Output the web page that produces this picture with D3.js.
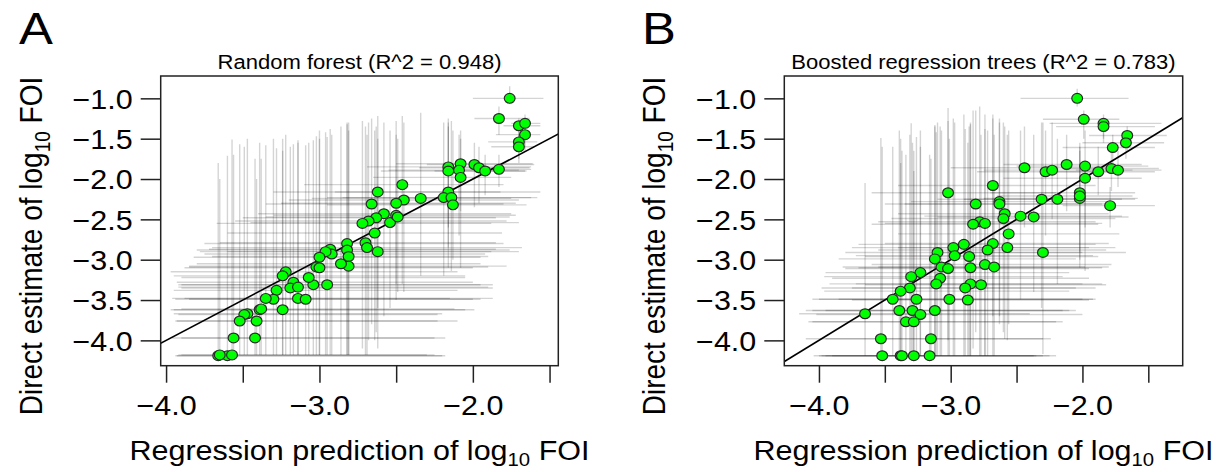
<!DOCTYPE html>
<html><head><meta charset="utf-8">
<script src="https://cdn.jsdelivr.net/npm/d3@7"></script>
<style>
html,body{margin:0;padding:0;background:#fff;}
svg{display:block;font-family:"Liberation Sans",Arial,Helvetica,sans-serif;}
</style></head>
<body>
<svg id="chart" width="1217" height="472"></svg>
<script>
// ---------- Data ----------
const xTicks = [-4.0, -3.5, -3.0, -2.5, -2.0, -1.5];
const xTickLabels = ["−4.0", "", "−3.0", "", "−2.0", ""];
const yTicks = [-1.0, -1.5, -2.0, -2.5, -3.0, -3.5, -4.0];
const yTickLabels = ["−1.0", "−1.5", "−2.0", "−2.5", "−3.0", "−3.5", "−4.0"];
const panelLetters = ["A", "B"];
const panelTitles = ["Random forest (R^2 = 0.948)", "Boosted regression trees (R^2 = 0.783)"];
const xLimits = [[-4.035, -1.443], [-4.263, -1.239]];
const yLimits = [-4.314, -0.723];

// Panel A: random forest
const predA = [-1.76,-1.83,-1.70,-1.66,-1.66,-1.70,-1.70,-2.16,-2.16,-2.08,-2.09,-2.08,-1.99,-1.96,-1.92,-1.83,-2.16,-2.19,-2.14,-2.13,-2.34,-2.46,-2.45,-2.50,-2.62,-2.66,-2.58,-2.63,-2.68,-2.72,-2.54,-2.50,-2.49,-2.64,-2.70,-2.69,-2.62,-2.82,-2.82,-2.81,-2.81,-2.86,-2.93,-2.92,-2.96,-3.00,-3.02,-3.00,-2.95,-3.04,-3.07,-3.22,-3.24,-3.17,-3.19,-3.14,-3.14,-3.09,-3.28,-3.30,-3.35,-3.24,-3.39,-3.38,-3.47,-3.49,-3.52,-3.41,-3.56,-3.42,-3.66,-3.60,-3.57,-3.65];
const obsA  = [-1.00,-1.25,-1.34,-1.31,-1.45,-1.54,-1.60,-1.85,-1.90,-1.81,-1.89,-1.98,-1.82,-1.86,-1.90,-1.88,-2.16,-2.23,-2.23,-2.32,-2.24,-2.07,-2.26,-2.30,-2.16,-2.31,-2.43,-2.48,-2.52,-2.55,-2.54,-2.45,-2.47,-2.67,-2.79,-2.85,-2.90,-2.80,-2.88,-2.96,-3.08,-3.05,-2.87,-2.93,-2.90,-2.97,-3.09,-3.10,-3.31,-3.31,-3.22,-3.15,-3.20,-3.28,-3.35,-3.34,-3.48,-3.49,-3.38,-3.49,-3.48,-3.62,-3.62,-3.61,-3.67,-3.68,-3.76,-3.76,-3.97,-3.97,-4.19,-4.19,-4.18,-4.18];
const predLoA = [-2.00,-1.99,-1.80,-1.75,-1.85,-1.90,-1.88,-2.69,-2.60,-2.50,-2.55,-2.65,-2.30,-2.35,-2.25,-2.10,-2.90,-2.95,-2.85,-2.95,-3.05,-3.10,-3.20,-3.25,-3.30,-3.35,-3.40,-3.50,-3.55,-3.67,-3.45,-3.30,-3.35,-3.60,-3.65,-3.70,-3.60,-3.75,-3.80,-3.70,-3.85,-3.80,-3.72,-3.75,-3.78,-3.82,-3.85,-3.88,-3.90,-3.92,-3.90,-3.97,-3.95,-3.93,-3.90,-3.92,-3.88,-3.85,-3.95,-3.94,-3.96,-3.95,-3.97,-3.90,-3.95,-3.92,-3.94,-3.93,-3.96,-3.90,-3.94,-3.93,-3.90,-3.92];
const predHiA = [-1.54,-1.63,-1.56,-1.56,-1.56,-1.58,-1.60,-1.62,-1.65,-1.61,-1.70,-1.75,-1.60,-1.63,-1.66,-1.62,-1.56,-1.58,-1.62,-1.65,-1.75,-1.80,-1.70,-1.72,-1.82,-1.80,-1.75,-1.85,-1.78,-1.88,-1.70,-1.72,-1.76,-1.81,-1.85,-1.68,-1.70,-1.80,-1.76,-1.90,-1.78,-1.95,-1.85,-1.92,-1.88,-1.95,-1.90,-2.00,-1.87,-1.95,-2.05,-2.10,-2.05,-2.00,-1.87,-1.90,-1.87,-1.95,-2.10,-2.00,-2.15,-1.99,-2.05,-2.12,-2.20,-2.23,-2.23,-2.10,-2.18,-2.25,-2.18,-2.20,-2.25,-2.30];
const obsLoA = [-1.07,-1.45,-1.55,-1.45,-1.65,-1.75,-1.80,-2.60,-2.85,-2.40,-2.70,-3.10,-2.35,-2.30,-2.20,-2.10,-3.10,-3.20,-3.14,-3.00,-3.20,-3.30,-3.40,-3.50,-3.60,-3.80,-3.70,-3.90,-4.00,-4.10,-3.60,-3.30,-3.40,-4.00,-4.18,-4.18,-4.10,-4.18,-4.18,-4.18,-4.18,-4.18,-4.18,-4.18,-4.18,-4.18,-4.18,-4.18,-4.18,-4.18,-4.18,-4.18,-4.18,-4.18,-4.18,-4.18,-4.18,-4.18,-4.18,-4.18,-4.18,-4.18,-4.18,-4.18,-4.18,-4.18,-4.18,-4.18,-4.18,-4.18,-4.19,-4.19,-4.18,-4.18];
const obsHiA = [-0.85,-1.10,-1.25,-1.20,-1.35,-1.40,-1.45,-1.30,-1.35,-1.40,-1.45,-1.50,-1.55,-1.60,-1.70,-1.70,-1.25,-1.30,-1.28,-1.40,-1.18,-1.22,-1.30,-1.28,-1.22,-1.25,-1.30,-1.35,-1.30,-1.28,-1.40,-1.45,-1.50,-1.40,-1.35,-1.45,-1.50,-1.30,-1.32,-1.40,-1.30,-1.35,-1.38,-1.45,-1.42,-1.40,-1.47,-1.50,-1.48,-1.52,-1.55,-1.45,-1.50,-1.57,-1.60,-1.52,-1.55,-1.58,-1.62,-1.50,-1.58,-1.65,-1.55,-1.75,-1.50,-1.60,-1.57,-2.00,-1.70,-1.75,-1.80,-1.71,-1.51,-2.00];

// Panel B: boosted regression trees
const predB = [-2.04,-1.99,-1.84,-1.84,-1.66,-1.67,-1.77,-2.12,-1.98,-2.44,-2.28,-2.23,-1.88,-1.78,-1.73,-1.98,-2.02,-2.02,-2.02,-1.79,-2.31,-2.19,-2.68,-3.02,-2.81,-2.63,-2.63,-2.59,-2.60,-2.78,-2.83,-2.74,-2.47,-2.37,-2.56,-2.68,-2.57,-2.30,-2.90,-2.98,-2.97,-2.86,-2.72,-3.10,-3.12,-3.07,-3.02,-2.85,-2.74,-2.67,-3.08,-3.11,-2.85,-2.89,-2.77,-3.23,-3.30,-3.31,-3.38,-3.44,-3.26,-3.01,-2.87,-3.39,-3.29,-3.23,-3.12,-3.34,-3.28,-3.65,-3.53,-3.15,-3.52,-3.38,-3.37,-3.28,-3.16];
const obsB  = [-1.00,-1.26,-1.31,-1.35,-1.46,-1.55,-1.61,-1.82,-1.84,-1.86,-1.91,-1.89,-1.91,-1.87,-1.89,-1.99,-2.17,-2.24,-2.21,-2.33,-2.25,-2.25,-2.08,-2.17,-2.31,-2.28,-2.31,-2.43,-2.49,-2.53,-2.56,-2.55,-2.46,-2.47,-2.68,-2.80,-2.85,-2.91,-2.81,-2.85,-2.95,-2.96,-2.88,-2.91,-2.99,-3.09,-3.11,-3.10,-3.06,-3.09,-3.23,-3.30,-3.30,-3.35,-3.31,-3.16,-3.21,-3.35,-3.39,-3.49,-3.49,-3.49,-3.50,-3.63,-3.63,-3.68,-3.63,-3.77,-3.77,-3.67,-3.98,-3.98,-4.19,-4.19,-4.19,-4.19,-4.19];
const predLoB = [-2.47,-2.30,-2.25,-2.20,-1.95,-2.00,-2.15,-2.60,-2.50,-3.00,-2.80,-2.75,-2.30,-2.10,-2.05,-2.60,-2.70,-2.75,-2.65,-2.15,-3.10,-2.90,-3.40,-3.60,-3.50,-3.30,-3.35,-3.40,-3.45,-3.55,-3.60,-3.50,-3.20,-3.10,-3.40,-3.50,-3.40,-3.10,-3.70,-3.75,-3.72,-3.65,-3.55,-3.80,-3.85,-3.82,-3.80,-3.70,-3.60,-3.55,-3.90,-3.92,-3.72,-3.75,-3.65,-3.95,-3.96,-3.98,-3.96,-4.05,-4.00,-3.85,-3.75,-4.10,-4.05,-4.02,-3.95,-4.08,-4.05,-4.15,-4.10,-3.95,-4.04,-4.00,-3.98,-3.95,-3.90];
const predHiB = [-1.65,-1.72,-1.40,-1.45,-1.36,-1.38,-1.45,-1.55,-1.50,-1.80,-1.70,-1.62,-1.45,-1.42,-1.40,-1.55,-1.60,-1.58,-1.62,-1.45,-1.70,-1.60,-1.90,-2.20,-1.85,-1.80,-1.75,-1.80,-1.75,-1.90,-1.88,-1.85,-1.70,-1.65,-1.72,-1.80,-1.75,-1.67,-1.90,-1.95,-1.92,-1.88,-1.82,-2.00,-2.05,-1.98,-1.95,-1.85,-1.78,-1.80,-1.95,-2.00,-1.85,-1.90,-1.82,-2.10,-2.15,-2.05,-2.10,-1.90,-2.00,-1.92,-1.95,-2.10,-2.05,-2.00,-2.15,-2.20,-2.15,-2.40,-2.24,-2.30,-2.37,-2.30,-2.25,-2.35,-2.20];
const obsLoB = [-1.10,-1.50,-1.50,-1.55,-1.65,-1.75,-1.85,-2.40,-2.60,-2.60,-2.70,-2.50,-2.20,-2.15,-2.10,-3.14,-3.00,-3.10,-2.90,-2.60,-3.60,-3.30,-3.70,-4.00,-3.90,-3.80,-3.70,-3.98,-3.90,-4.19,-4.10,-4.19,-3.49,-3.40,-3.80,-4.19,-4.00,-4.17,-4.19,-4.19,-4.19,-4.19,-4.19,-4.19,-4.19,-4.19,-4.19,-4.19,-4.19,-4.19,-4.19,-4.19,-4.19,-4.19,-4.19,-4.19,-4.19,-4.19,-4.19,-4.19,-4.19,-4.19,-4.19,-4.19,-4.19,-4.19,-4.19,-4.19,-4.19,-4.19,-4.19,-4.19,-4.19,-4.19,-4.19,-4.19,-4.19];
const obsHiB = [-0.88,-1.15,-1.20,-1.25,-1.35,-1.42,-1.45,-1.45,-1.40,-1.35,-1.40,-1.30,-1.60,-1.55,-1.65,-1.80,-1.60,-1.55,-1.65,-2.10,-1.30,-1.50,-1.20,-1.12,-1.15,-1.25,-1.30,-1.35,-1.30,-1.10,-1.15,-1.20,-1.40,-1.45,-1.40,-1.25,-1.45,-1.30,-1.20,-1.25,-1.30,-1.35,-1.40,-1.30,-1.35,-1.40,-1.28,-1.32,-1.38,-1.45,-1.35,-1.42,-1.30,-1.38,-1.45,-1.40,-1.31,-1.45,-1.50,-1.60,-1.48,-1.50,-1.55,-1.40,-1.55,-1.60,-1.33,-1.70,-1.65,-2.05,-1.49,-1.75,-1.60,-1.80,-1.65,-1.90,-1.70];

// ---------- Layout ----------
const SX = 1.13; // the reference is slightly wider than tall: stretch text horizontally
const panels = [
  {box:{x0:160.7, x1:558.3, y0:76, y1:365.7}, pred:predA, obs:obsA, pLo:predLoA, pHi:predHiA, oLo:obsLoA, oHi:obsHiA,
   letterX:19, yTitleBase:42},
  {box:{x0:784.3, x1:1182.7, y0:76, y1:365.7}, pred:predB, obs:obsB, pLo:predLoB, pHi:predHiB, oLo:obsLoB, oHi:obsHiB,
   letterX:642, yTitleBase:665}
];

const svg = d3.select("#chart");
const FONT = '"Liberation Sans",Arial,Helvetica,sans-serif';

panels.forEach((p, i) => {
  const b = p.box;
  const x = d3.scaleLinear().domain(xLimits[i]).range([b.x0, b.x1]);
  const y = d3.scaleLinear().domain(yLimits).range([b.y1, b.y0]);
  const g = svg.append("g");
  const clipId = "clip" + i;
  svg.append("clipPath").attr("id", clipId).append("rect")
     .attr("x", b.x0).attr("y", b.y0).attr("width", b.x1 - b.x0).attr("height", b.y1 - b.y0);

  const data = p.pred.map((v, k) => ({x: v, y: p.obs[k], xl: p.pLo[k], xh: p.pHi[k], yl: p.oLo[k], yh: p.oHi[k]}));
  const plot = g.append("g").attr("clip-path", `url(#${clipId})`);

  // error bars
  const eb = plot.append("g").attr("stroke", "rgba(0,0,0,0.17)").attr("stroke-width", 1.4);
  eb.selectAll("line.h").data(data).join("line").attr("class", "h")
    .attr("x1", d => x(d.xl)).attr("x2", d => x(d.xh))
    .attr("y1", d => y(d.y)).attr("y2", d => y(d.y));
  eb.selectAll("line.v").data(data).join("line").attr("class", "v")
    .attr("x1", d => x(d.x)).attr("x2", d => x(d.x))
    .attr("y1", d => y(d.yl)).attr("y2", d => y(d.yh));

  // identity line
  const lim = [Math.min(xLimits[i][0], yLimits[0]) - 1, Math.max(xLimits[i][1], yLimits[1]) + 1];
  plot.append("line")
    .attr("x1", x(lim[0])).attr("y1", y(lim[0]))
    .attr("x2", x(lim[1])).attr("y2", y(lim[1]))
    .attr("stroke", "#000").attr("stroke-width", 1.6);

  // points
  plot.append("g").selectAll("ellipse").data(data).join("ellipse")
    .attr("cx", d => x(d.x)).attr("cy", d => y(d.y)).attr("rx", 5.4).attr("ry", 4.9)
    .attr("fill", "#00ff00").attr("stroke", "#2a2a2a").attr("stroke-width", 1.2);

  // box
  g.append("rect").attr("x", b.x0).attr("y", b.y0).attr("width", b.x1 - b.x0).attr("height", b.y1 - b.y0)
    .attr("fill", "none").attr("stroke", "#222").attr("stroke-width", 1.5);

  // x axis
  const xAxis = d3.axisBottom(x).tickValues(xTicks).tickSize(17).tickSizeOuter(0)
    .tickFormat((d, k) => xTickLabels[k]);
  const xa = g.append("g").attr("transform", `translate(0,${b.y1})`).call(xAxis);
  xa.select(".domain").remove();
  xa.selectAll(".tick line").attr("stroke", "#222").attr("stroke-width", 1.5);
  xa.selectAll(".tick text").attr("font-family", FONT).attr("font-size", 27).attr("fill", "#000")
    .attr("y", 0).attr("dy", 0).attr("transform", `translate(0,49) scale(${SX},1)`);

  // y axis
  const yAxis = d3.axisLeft(y).tickValues(yTicks).tickSize(20).tickSizeOuter(0)
    .tickFormat((d, k) => yTickLabels[k]);
  const ya = g.append("g").attr("transform", `translate(${b.x0},0)`).call(yAxis);
  ya.select(".domain").remove();
  ya.selectAll(".tick line").attr("stroke", "#222").attr("stroke-width", 1.5);
  ya.selectAll(".tick text").attr("font-family", FONT).attr("font-size", 27).attr("fill", "#000")
    .attr("x", 0).attr("dy", "0.36em").attr("transform", `translate(-28,0) scale(${SX},1)`);

  // title
  g.append("text").attr("transform", `translate(${(b.x0 + b.x1) / 2},69) scale(${SX},1)`).attr("text-anchor", "middle")
    .attr("font-family", FONT).attr("font-size", 19.5).attr("fill", "#000").text(panelTitles[i]);

  // panel letter
  g.append("text").attr("transform", `translate(${p.letterX},44) scale(${SX},1)`).attr("font-family", FONT)
    .attr("font-size", 45).attr("fill", "#000").text(panelLetters[i]);

  // x axis title
  const xt = g.append("text").attr("transform", `translate(${(b.x0 + b.x1) / 2},460) scale(${SX},1)`)
    .attr("text-anchor", "middle").attr("font-family", FONT).attr("font-size", 27).attr("fill", "#000");
  xt.append("tspan").text("Regression prediction of log");
  xt.append("tspan").attr("font-size", 18).attr("dy", 6).text("10");
  xt.append("tspan").attr("dy", -6).text(" FOI");

  // y axis title
  const yt = g.append("text").attr("transform", `translate(${p.yTitleBase},246) scale(${SX},1) rotate(-90)`)
    .attr("text-anchor", "middle").attr("font-family", FONT).attr("font-size", 28).attr("fill", "#000");
  yt.append("tspan").text("Direct estimate of log");
  yt.append("tspan").attr("font-size", 19).attr("dy", 7).text("10");
  yt.append("tspan").attr("dy", -7).text(" FOI");
});
</script>
</body></html>
